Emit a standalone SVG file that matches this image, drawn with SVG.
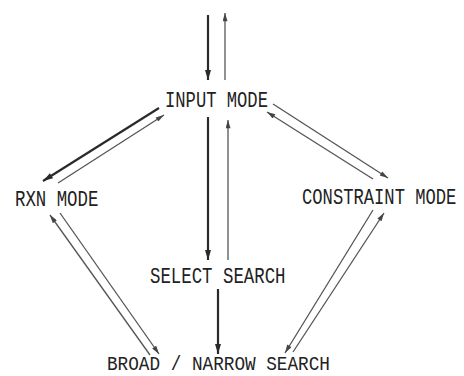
<svg xmlns="http://www.w3.org/2000/svg" width="464" height="376" viewBox="0 0 464 376">
<defs>
<style>
.t{font-family:"Liberation Mono","DejaVu Sans Mono",monospace;font-size:22px;fill:#222}
.b{font-size:20px}
.k{stroke:#2a2a2a;stroke-width:2.2;fill:none}
.n{stroke:#555;stroke-width:1.3;fill:none}
</style>
<marker id="hk" markerUnits="userSpaceOnUse" viewBox="0 0 10 6" refX="10" refY="3" markerWidth="11" markerHeight="6" orient="auto">
<path d="M0,0 L10,3 L0,6 Z" fill="#2a2a2a"/>
</marker>
<marker id="hn" markerUnits="userSpaceOnUse" viewBox="0 0 10 6" refX="10" refY="3" markerWidth="11" markerHeight="5" orient="auto">
<path d="M0,0 L10,3 L0,6 Z" fill="#444"/>
</marker>
</defs>
<rect width="464" height="376" fill="#fff"/>
<g id="connectors">
<line class="k" x1="208" y1="15" x2="208" y2="80" marker-end="url(#hk)"/>
<line class="n" x1="225" y1="80" x2="225" y2="13" marker-end="url(#hn)"/>
<line class="k" x1="159" y1="108" x2="43" y2="181" marker-end="url(#hk)"/>
<line class="n" x1="58" y1="183" x2="164" y2="115" marker-end="url(#hn)"/>
<line class="n" x1="273" y1="104" x2="388" y2="178" marker-end="url(#hn)"/>
<line class="n" x1="373" y1="179" x2="267" y2="112" marker-end="url(#hn)"/>
<line class="k" x1="208" y1="117" x2="208" y2="260" marker-end="url(#hk)"/>
<line class="n" x1="228" y1="260" x2="228" y2="120" marker-end="url(#hn)"/>
<line class="k" x1="218" y1="289" x2="218" y2="354" marker-end="url(#hk)"/>
<line class="n" x1="150" y1="355" x2="50" y2="215" marker-end="url(#hn)"/>
<line class="n" x1="60" y1="213" x2="159" y2="354" marker-end="url(#hn)"/>
<line class="n" x1="373" y1="210" x2="285" y2="353" marker-end="url(#hn)"/>
<line class="n" x1="293" y1="352" x2="384" y2="213" marker-end="url(#hn)"/>
</g>
<g id="input-mode"><text class="t" transform="translate(165,107) scale(0.78,1)">INPUT MODE</text></g>
<g id="rxn-mode"><text class="t" transform="translate(15,206) scale(0.79,1)">RXN MODE</text></g>
<g id="constraint-mode"><text class="t" transform="translate(302,204) scale(0.78,1)">CONSTRAINT MODE</text></g>
<g id="select-search"><text class="t" transform="translate(150,283) scale(0.79,1)">SELECT SEARCH</text></g>
<g id="broad-narrow-search"><text class="t b" transform="translate(107,370) scale(0.885,1)">BROAD / NARROW SEARCH</text></g>
</svg>
